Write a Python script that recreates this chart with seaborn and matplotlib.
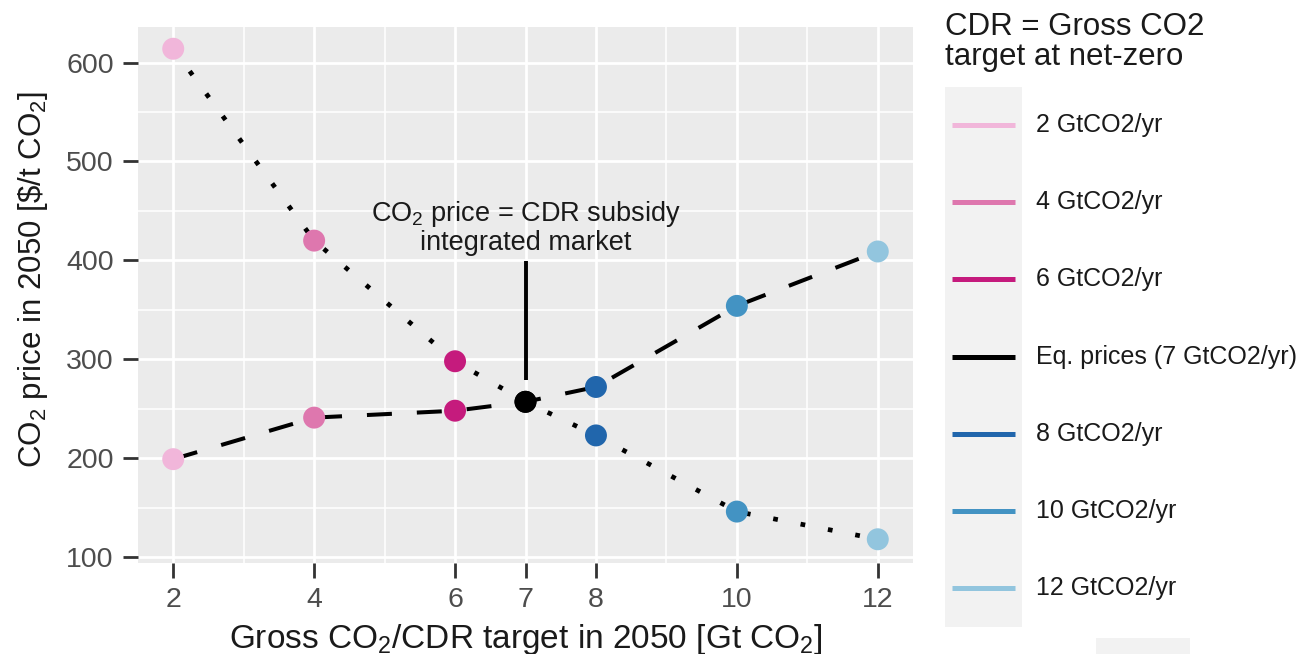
import matplotlib
matplotlib.use("Agg")
import matplotlib.pyplot as plt
from matplotlib.patches import Rectangle
from matplotlib.lines import Line2D
import seaborn as sns
import pandas as pd

# Gross CO2 / CDR targets in 2050 (Gt CO2) and the resulting prices ($/t CO2)
targets = [2, 4, 6, 7, 8, 10, 12]
co2_price = [614, 420, 298, 257, 223, 146, 118]
cdr_subsidy = [199, 241, 248, 257, 272, 354, 409]
scenario_labels = [
    "2 GtCO2/yr", "4 GtCO2/yr", "6 GtCO2/yr", "Eq. prices (7 GtCO2/yr)",
    "8 GtCO2/yr", "10 GtCO2/yr", "12 GtCO2/yr",
]
scenario_colors = ["#F1B6DA", "#DE77AE", "#C51B7D", "#000000",
                   "#2166AC", "#4393C3", "#92C5DE"]
x_ticks = [2, 4, 6, 7, 8, 10, 12]
y_ticks = [100, 200, 300, 400, 500, 600]

sns.set_theme(style="darkgrid")
plt.rcParams["font.family"] = ["Liberation Sans", "DejaVu Sans"]
plt.rcParams["mathtext.default"] = "regular"

price_df = pd.DataFrame({"target": targets, "price": co2_price, "scenario": scenario_labels})
subsidy_df = pd.DataFrame({"target": targets, "price": cdr_subsidy, "scenario": scenario_labels})
palette = dict(zip(scenario_labels, scenario_colors))

fig = plt.figure(figsize=(13.04, 6.54), dpi=100)
W, H = 1304, 654
ax = fig.add_axes([138 / W, 1 - 563 / H, (913 - 138) / W, (563 - 27) / H])
ax.set_facecolor("#EBEBEB")

# CO2 price curve (dotted) and CDR subsidy curve (dashed)
sns.lineplot(data=price_df, x="target", y="price", ax=ax, color="black",
             linewidth=3.4, linestyle=(0, (1.0, 4.9)), sort=True, zorder=2)
sns.lineplot(data=subsidy_df, x="target", y="price", ax=ax, color="black",
             linewidth=2.9, linestyle=(0, (6.2, 6.2)), sort=True, zorder=2)
for ln in ax.lines:
    ln.set_dash_capstyle("butt")

# Scenario points
for df in (price_df, subsidy_df):
    sns.scatterplot(data=df, x="target", y="price", hue="scenario",
                    palette=palette, s=250, linewidth=0, legend=False,
                    ax=ax, zorder=4)

# Equilibrium annotation
eq_idx = scenario_labels.index("Eq. prices (7 GtCO2/yr)")
eq_x, eq_y = targets[eq_idx], co2_price[eq_idx]
ax.vlines(eq_x, eq_y + 22, 399, color="black", linewidth=2.8, zorder=3)
ax.text(eq_x, 433, "CO$_2$ price = CDR subsidy\nintegrated market",
        ha="center", va="center", fontsize=19.5, color="#1A1A1A",
        linespacing=1.05, zorder=5)

ax.set_xlim(1.5, 12.5)
ax.set_ylim(94, 636)
ax.set_xticks(x_ticks)
ax.set_yticks(y_ticks)
ax.set_xticks([3, 5, 9, 11], minor=True)
ax.set_yticks([150, 250, 350, 450, 550], minor=True)
ax.grid(which="major", color="white", linewidth=2.0)
ax.grid(which="minor", color="white", linewidth=1.1)
ax.tick_params(which="major", bottom=True, left=True, length=10.5, width=2.0,
               color="#333333", labelsize=20.5, labelcolor="#4D4D4D", pad=7)
ax.tick_params(which="minor", bottom=False, left=False, length=0)
for s in ax.spines.values():
    s.set_visible(False)
ax.set_xlabel("Gross CO$_2$/CDR target in 2050 [Gt CO$_2$]", fontsize=24,
              color="#1A1A1A", labelpad=6)
ax.set_ylabel("CO$_2$ price in 2050 [\\$/t CO$_2$]", fontsize=22.5,
              color="#1A1A1A")
ax.yaxis.set_label_coords(-0.113, 0.53)

# Legend drawn in a dedicated panel (pixel coordinates, y downward)
lax = fig.add_axes([0, 0, 1, 1], facecolor="none")
lax.set_xlim(0, W)
lax.set_ylim(H, 0)
lax.axis("off")
lax.text(945, 12, "CDR = Gross CO2\ntarget at net-zero", ha="left", va="top",
         fontsize=22.5, color="#1A1A1A", linespacing=1.0)
lax.add_patch(Rectangle((945, 87), 77, 540, facecolor="#F2F2F2", edgecolor="none"))
lax.add_patch(Rectangle((1096, 638), 94, 16, facecolor="#F2F2F2", edgecolor="none"))
key_y0, key_step = 125, 77.2
for i, (lab, col) in enumerate(zip(scenario_labels, scenario_colors)):
    yy = key_y0 + i * key_step
    lax.add_line(Line2D([952, 1015], [yy, yy], color=col, linewidth=3.6,
                        solid_capstyle="butt"))
    lax.text(1036, yy, lab, ha="left", va="center", fontsize=18, color="#1A1A1A")

fig.savefig("out.png", dpi=100)
